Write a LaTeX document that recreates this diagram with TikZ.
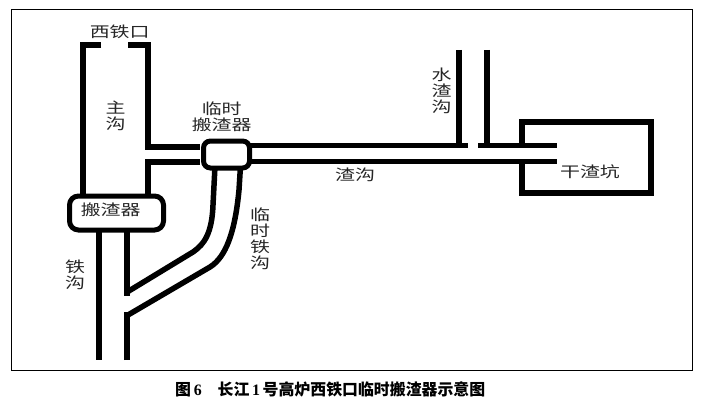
\documentclass[tikz,border=0pt]{standalone}
\usepackage{fontspec}
\setmainfont{Liberation Serif}
\newfontfamily\cjk{Noto Sans CJK SC}[FakeStretch=1.33]
\newfontfamily\cjkb{Noto Sans CJK SC Bold}
\tikzset{
  wall/.style={line width=6pt,line cap=butt,line join=miter},
  thin wall/.style={line width=4.6pt,line cap=butt,line join=miter},
  bend wall/.style={line width=5.5pt,line cap=butt,line join=round},
  lab/.style={font=\cjk\fontsize{15}{16}\selectfont,inner sep=0pt,align=center,text=black!85},
  catcher/.style={draw,fill=white,inner sep=0pt,anchor=north west},
}
\begin{document}
\begin{tikzpicture}[x=1pt,y=-1pt]
\useasboundingbox (0,0) rectangle (703,404);
\fill[white] (0,0) rectangle (703,404);
\draw[line width=1pt] (11,10) rectangle (692,370);
% main runner
\draw[wall] (101,45) -- (83.3,45) -- (83.3,195);
\draw[wall] (128,45) -- (147.7,45) -- (147.7,146.7) -- (200,146.7);
\draw[wall] (147.7,195) -- (147.7,161.7) -- (200,161.7);
% iron runner
\draw[wall] (99.3,228) -- (99.3,360);
\draw[wall] (126.7,228) -- (126.7,295.5);
\draw[wall] (126.7,360) -- (126.7,312);
% temporary iron runner
\draw[bend wall] (128,291.5) -- (193,252) .. controls (205,244) and (212,232) .. (213,205) -- (215,166);
\draw[bend wall] (128,315) -- (210,267) .. controls (226,257) and (235,232) .. (239,190) -- (240.5,166);
% slag runner
\draw[thin wall] (248,145.7) -- (468,145.7);
\draw[thin wall] (478,145.7) -- (557,145.7);
\draw[thin wall] (248,161.7) -- (557,161.7);
% water slag runner
\draw[wall] (459.3,50) -- (459.3,148);
\draw[wall] (486.7,50) -- (486.7,148);
% dry pit
\draw[wall] (522,146) -- (522,121.8) -- (650.7,121.8) -- (650.7,192.5) -- (522,192.5) -- (522,160);
% catchers
\node[catcher,line width=5pt,rounded corners=7pt,minimum width=46pt,minimum height=27pt] (temp) at (201,138.5) {};
\node[catcher,line width=5pt,rounded corners=9pt,minimum width=94pt,minimum height=34pt] (main) at (67,193.5) {};
% labels
\node[lab] at (119.7,31.5) {西铁口};
\node[lab] at (115.7,116) {主\\沟};
\node[lab] at (221.7,117) {临时\\搬渣器};
\node[lab] at (110.7,210) {搬渣器};
\node[lab] at (260,239) {临\\时\\铁\\沟};
\node[lab] at (75,275) {铁\\沟};
\node[lab] at (441.7,91) {水\\渣\\沟};
\node[lab] at (355,175) {渣沟};
\node[lab] at (590,172) {干渣坑};
\node[inner sep=0pt,anchor=base west,font=\fontsize{15.9}{17}\selectfont\bfseries] at (175,395)
  {{\cjkb 图}\,6\hspace{1em}{\cjkb 长江}\,1\,{\cjkb 号高炉西铁口临时搬渣器示意图}};
\end{tikzpicture}
\end{document}
